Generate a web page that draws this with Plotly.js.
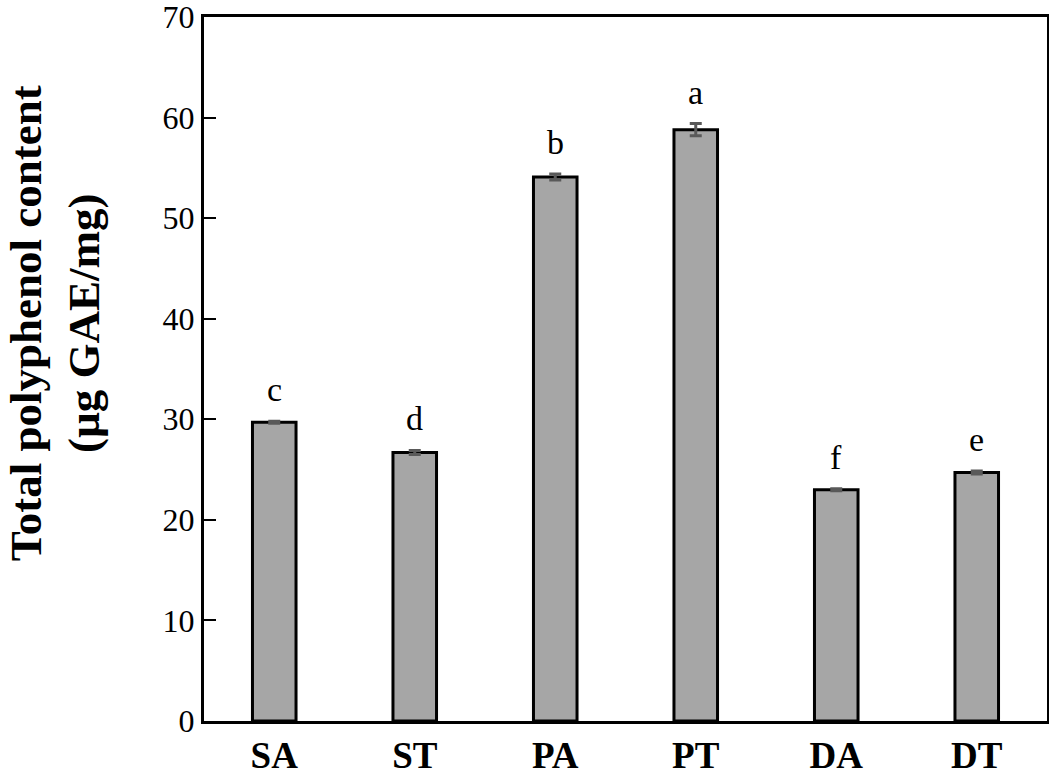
<!DOCTYPE html>
<html><head><meta charset="utf-8">
<script src="https://cdn.plot.ly/plotly-3.0.1.min.js"></script>
<style>html,body{margin:0;padding:0;background:#fff}</style>
</head><body><div id="chart" style="width:1049px;height:782px"></div>
<script>
const categories = ["SA","ST","PA","PT","DA","DT"];
const values = [29.7, 26.7, 54.1, 58.8, 23.0, 24.7];
const errors = [0.1, 0.2, 0.3, 0.6, 0.1, 0.15];
const letters = ["c","d","b","a","f","e"];
const tickVals = [0,10,20,30,40,50,60,70];
const yTitle = "Total polyphenol content<br>(µg GAE/mg)";

const serif = "Liberation Serif, Times New Roman, serif";

const trace = {
  type: "bar", x: categories, y: values,
  width: 0.31,
  marker: {color: "#a6a6a6", line: {color: "#000", width: 3}},
  error_y: {type: "data", array: errors, visible: true, color: "#595959", thickness: 3, width: 6},
  hoverinfo: "none"
};

const annotations = categories.map((c, i) => ({
  x: c, y: values[i] + errors[i], text: letters[i], showarrow: false,
  yanchor: "bottom", yshift: 11,
  font: {family: serif, size: 34, color: "#000"}
}));
annotations.push({
  xref: "paper", yref: "paper", x: 0, y: 0.565, xanchor: "center", yanchor: "middle",
  xshift: -149, textangle: -90, showarrow: false, text: yTitle,
  font: {family: serif, size: 45, color: "#000", weight: "bold"}
});

Plotly.newPlot("chart", [trace], {
  width: 1049, height: 782,
  margin: {l: 204, r: 2, t: 17, b: 61},
  paper_bgcolor: "#fff", plot_bgcolor: "#fff",
  showlegend: false,
  xaxis: {
    showline: true, linecolor: "#000", linewidth: 3, mirror: true,
    ticks: "", tickfont: {family: serif, size: 37, color: "#000", weight: "bold"},
    showgrid: false, zeroline: false
  },
  yaxis: {
    range: [0, 70], tickvals: tickVals, ticks: "inside", ticklen: 12, tickwidth: 2, tickcolor: "#000",
    showline: true, linecolor: "#000", linewidth: 3, mirror: true,
    showgrid: false, zeroline: false, ticklabeloverflow: "allow",
    tickfont: {family: serif, size: 32, color: "#000"}
  },
  annotations: annotations
}, {staticPlot: true});
</script></body></html>
